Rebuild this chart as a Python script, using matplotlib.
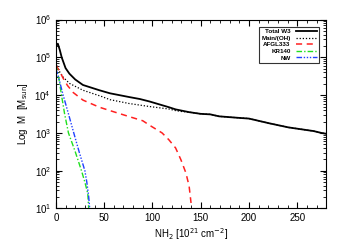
import matplotlib
matplotlib.use("Agg")
import matplotlib.pyplot as plt

plt.rcParams['font.family'] = ['Liberation Sans', 'DejaVu Sans']

# Data (column density in 10^21 cm^-2, cumulative mass in Msun)
x_total = [0, 2, 4, 6, 10, 14, 20, 28, 45, 56, 76, 87, 97, 117, 124, 138, 150, 160, 169,
           190, 200, 221, 241, 267, 275, 280]
m_total = [2.0e5, 2.3e5, 1.58e5, 1.0e5, 5.2e4, 3.7e4, 2.6e4, 1.86e4, 1.35e4, 1.12e4, 8.9e3,
           7.9e3, 6.8e3, 4.8e3, 4.2e3, 3.55e3, 3.2e3, 3.1e3, 2.75e3,
           2.5e3, 2.4e3, 1.8e3, 1.4e3, 1.12e3, 1.0e3, 950]

x_main = [0, 3, 7.5, 14, 28, 48, 56, 76, 97, 117, 124, 130, 138, 150, 160, 169,
          190, 200, 221, 241, 267, 275, 280]
m_main = [7.2e4, 4.5e4, 3.0e4, 2.05e4, 1.35e4, 9.1e3, 7.6e3, 6.0e3, 5.0e3, 4.3e3, 3.9e3,
          3.7e3, 3.55e3, 3.2e3, 3.1e3, 2.75e3,
          2.5e3, 2.4e3, 1.8e3, 1.4e3, 1.12e3, 1.0e3, 950]

x_afgl = [0, 4, 7.5, 12, 18, 28, 45, 56, 76, 90, 97, 110, 117, 124, 129.5, 134.7, 138, 139.5, 140]
m_afgl = [6.3e4, 4.2e4, 2.8e4, 1.8e4, 1.17e4, 7.4e3, 4.8e3, 3.9e3, 2.7e3, 2.1e3, 1.6e3,
          1.0e3, 660, 400, 195, 87, 39, 18, 14]

x_kr = [0, 3, 5.8, 9, 13, 20, 26.5, 30, 33, 34]
m_kr = [6.3e4, 2.8e4, 1.0e4, 3.2e3, 1.0e3, 320, 100, 50, 25, 10]

x_nw = [0, 3, 7.5, 13, 18.5, 24, 30, 32, 34, 35]
m_nw = [5.0e4, 2.8e4, 1.0e4, 3.2e3, 1.0e3, 320, 100, 50, 20, 10]

fig, ax = plt.subplots(figsize=(3.43, 2.45), dpi=100)
fig.subplots_adjust(left=0.163, right=0.951, top=0.92, bottom=0.149)

ax.plot(x_main, m_main, color='black', lw=0.9, ls=(0, (1, 1.5)), label='Main/(OH)')
ax.plot(x_total, m_total, color='black', lw=1.3, label='Total W3')
ax.plot(x_afgl, m_afgl, color='#ff2020', lw=1.1, ls=(0, (4, 3)), label='AFGL333')
ax.plot(x_kr, m_kr, color='#20e020', lw=1.0, ls=(0, (4, 1.5, 1, 1.5)), label='KR140')
ax.plot(x_nw, m_nw, color='#2040ff', lw=1.0, ls=(0, (4, 1.2, 1, 1.2, 1, 1.2, 1, 1.2)), label='NW')

ax.set_yscale('log')
ax.set_xlim(0, 280)
ax.set_ylim(10, 1e6)
ax.set_xticks([0, 50, 100, 150, 200, 250])
ax.minorticks_on()
ax.tick_params(which='both', direction='in', top=True, right=True, labelsize=7)
ax.tick_params(which='major', length=4)
ax.tick_params(which='minor', length=2)

ax.set_xlabel(r'NH$_2$ [10$^{21}$ cm$^{-2}$]', fontsize=7, labelpad=2)
ax.set_ylabel(r'Log  M  [M$_{\rm sun}$]', fontsize=7, labelpad=3)

handles, labels = ax.get_legend_handles_labels()
order = [1, 0, 2, 3, 4]
leg = ax.legend([handles[i] for i in order], [labels[i] for i in order],
                loc='upper right', fontsize=4.5, markerfirst=False, frameon=True,
                fancybox=False, edgecolor='black', handlelength=3.4,
                borderpad=0.35, labelspacing=0.2, bbox_to_anchor=(0.985, 0.98))
leg.get_frame().set_linewidth(0.8)
for t in leg.get_texts():
    t.set_fontweight('bold')

plt.savefig('out.png', dpi=100)
